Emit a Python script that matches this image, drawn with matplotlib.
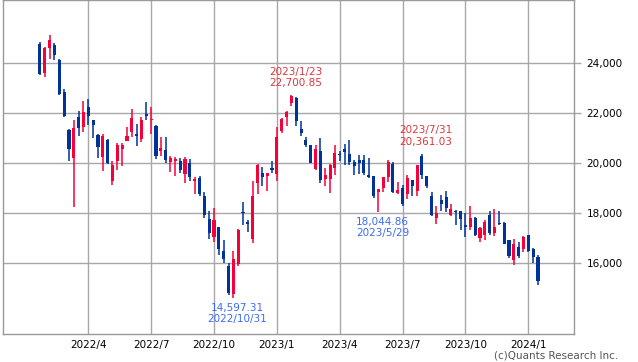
import matplotlib
matplotlib.use("Agg")
import matplotlib.pyplot as plt
import pandas as pd

# weekly candles, first week starts 2022-01-24 (Monday)
start_week = "2022-01-24"

opens = [24760, 23600, 24573, 24720, 24120, 22827, 21320, 20173, 21827, 21427,
         22240, 21693, 21120, 20227, 20920, 19253, 20080, 20560, 20880, 21240,
         21160, 20933, 21960, 21693, 21480, 20453, 20520, 20013, 20053, 20053,
         19533, 19973, 19267, 19387, 18680, 17773, 17027, 17440, 16480, 15893,
         14760, 15947, 18010, 17653, 16960, 19173, 19587, 19453, 19787, 19533,
         21253, 21813, 22387, 22600, 21347, 20920, 20693, 19760, 20453, 19347,
         19347, 19787, 20360, 20560, 20360, 20027, 20120, 20120, 19520, 19480,
         18813, 18987, 19413, 19960, 18787, 18987, 18747, 19320, 18853, 20253,
         19480, 18680, 17787, 18520, 18613, 17893, 18040, 18053, 17507, 17453,
         17813, 17013, 17120, 17920, 17187, 17613, 17613, 16920, 16120, 16653,
         16560, 17120, 16573, 16240]
highs = [24813, 24610, 25093, 24787, 24147, 22960, 21330, 21720, 22053, 22453,
         22533, 21700, 21130, 21160, 20930, 20080, 20787, 20787, 21413, 22160,
         21560, 21840, 22440, 22213, 21500, 21013, 21027, 20280, 20240, 20173,
         20213, 20160, 19413, 19480, 18827, 18080, 18173, 17450, 16920, 15987,
         16493, 17360, 18413, 17720, 19253, 19947, 19827, 19600, 20080, 21413,
         21770, 22050, 22701, 22610, 21653, 21027, 20700, 20693, 20987, 19787,
         19930, 20720, 20453, 20760, 20893, 20120, 20293, 20320, 20187, 19490,
         18970, 19413, 20120, 20013, 19227, 19120, 19520, 19330, 19920, 20361,
         19490, 18813, 18280, 18720, 18880, 18347, 18120, 18060, 17987, 18280,
         17830, 17453, 17720, 18053, 18160, 18053, 17620, 16930, 16960, 16827,
         17093, 17130, 16580, 16320]
lows = [23493, 23440, 24133, 24120, 22693, 21813, 20053, 18213, 21053, 21227,
        21493, 20973, 20200, 19653, 19940, 19120, 19720, 19853, 20853, 21013,
        20653, 20813, 21693, 21160, 20160, 20280, 19987, 19613, 19453, 19587,
        19173, 19280, 18760, 18653, 17813, 16973, 16853, 16320, 15987, 14720,
        14597, 15893, 17507, 17253, 16813, 18747, 19053, 18853, 19587, 19253,
        21187, 21453, 22280, 21453, 21053, 20613, 19980, 19720, 19187, 19053,
        18787, 19493, 20053, 19893, 19920, 19493, 19547, 19520, 19387, 18600,
        18045, 18827, 19227, 18787, 18747, 18253, 18560, 18653, 18653, 19360,
        19000, 17853, 17547, 18080, 18013, 17890, 17520, 17320, 17053, 17320,
        17080, 16853, 16920, 17120, 17093, 17520, 16740, 16187, 15920, 16187,
        16427, 16427, 16013, 15120]
closes = [23548, 24600, 24920, 24293, 22747, 21880, 20547, 21400, 21373, 22040,
          21853, 21493, 20627, 21080, 19987, 19893, 20720, 20693, 21080, 21800,
          21053, 21720, 21853, 21720, 20253, 20587, 20120, 20187, 20160, 19720,
          20160, 19413, 19360, 18747, 17907, 17187, 17720, 16547, 16173, 14787,
          16160, 17320, 17990, 17547, 18680, 19893, 19427, 19587, 19720, 21013,
          21760, 22040, 22680, 21653, 21187, 20693, 19987, 20560, 19293, 19520,
          19920, 20387, 20293, 20427, 20027, 19867, 20000, 19587, 19427, 18680,
          18960, 19413, 20027, 18840, 18920, 18347, 19387, 19053, 19920, 19493,
          19053, 17920, 17987, 18347, 18187, 18147, 18013, 17760, 17453, 17787,
          17120, 17387, 17653, 17187, 17453, 17547, 16760, 16293, 16747, 16293,
          17040, 16493, 16227, 15293]

# labelled extremes
ann_dates = ["2023/1/23", "2023/7/31", "2023/5/29", "2022/10/31"]
ann_values = [22700.85, 20361.03, 18044.86, 14597.31]
ann_kinds = ["high", "high", "low", "low"]

y_ticks = [16000, 18000, 20000, 22000, 24000]

UP = "#f5003a"
DOWN = "#003399"
GRID = "#a8a8a8"


def main():
    weeks = pd.date_range(start_week, periods=len(opens), freq="W-MON")
    xs = list(range(len(weeks)))

    fig = plt.figure(figsize=(6.38, 3.62), dpi=100)
    ax = fig.add_axes([3 / 638, 28 / 362, 571 / 638, 334 / 362])

    colors = [UP if c >= o else DOWN for o, c in zip(opens, closes)]
    ax.vlines(xs, lows, highs, colors=colors, lw=1.1, zorder=2)
    bottoms = [min(o, c) for o, c in zip(opens, closes)]
    heights = [max(abs(c - o), 45) for o, c in zip(opens, closes)]
    ax.bar(xs, heights, bottom=bottoms, width=0.64, color=colors, lw=0, zorder=3)

    # quarter gridlines at the first week starting in Jan/Apr/Jul/Oct
    tick_idx = [i for i, d in enumerate(weeks) if d.month in (1, 4, 7, 10) and d.day <= 7]
    ax.set_xticks(tick_idx)
    ax.set_xticklabels([f"{weeks[i].year}/{weeks[i].month}" for i in tick_idx])
    ax.set_yticks(y_ticks)
    ax.set_yticklabels([f"{v:,}" for v in y_ticks])

    ax.set_xlim(-7.64, 110.45)
    ax.set_ylim(13160, 26500)

    ax.yaxis.tick_right()
    ax.tick_params(axis="y", length=5, width=1, color=GRID, pad=4, labelsize=7.5)
    ax.tick_params(axis="x", length=0, pad=4, labelsize=7.5)
    ax.grid(color=GRID, lw=1)
    ax.set_axisbelow(True)
    for sp in ax.spines.values():
        sp.set_color("#999999")
        sp.set_linewidth(1)

    for d, v, kind in zip(ann_dates, ann_values, ann_kinds):
        idx = list(weeks.strftime("%Y/%-m/%-d")).index(d)
        val = f"{v:,.2f}"
        if kind == "high":
            ax.annotate(f"{d}\n{val}", xy=(idx, v), xytext=(3, 5), textcoords="offset points",
                        ha="center", va="bottom", ma="center", fontsize=7.5, color="#d9383f")
        else:
            ax.annotate(f"{val}\n{d}", xy=(idx, v), xytext=(3, -3.5), textcoords="offset points",
                        ha="center", va="top", ma="center", fontsize=7.5, color="#3c6cf0")

    fig.text(618 / 638, 1 - 356 / 362, "(c)Quants Research Inc.", ha="right", va="center",
             fontsize=7.5, color="#555555")
    fig.savefig("out.png", dpi=100)


if __name__ == "__main__":
    main()
